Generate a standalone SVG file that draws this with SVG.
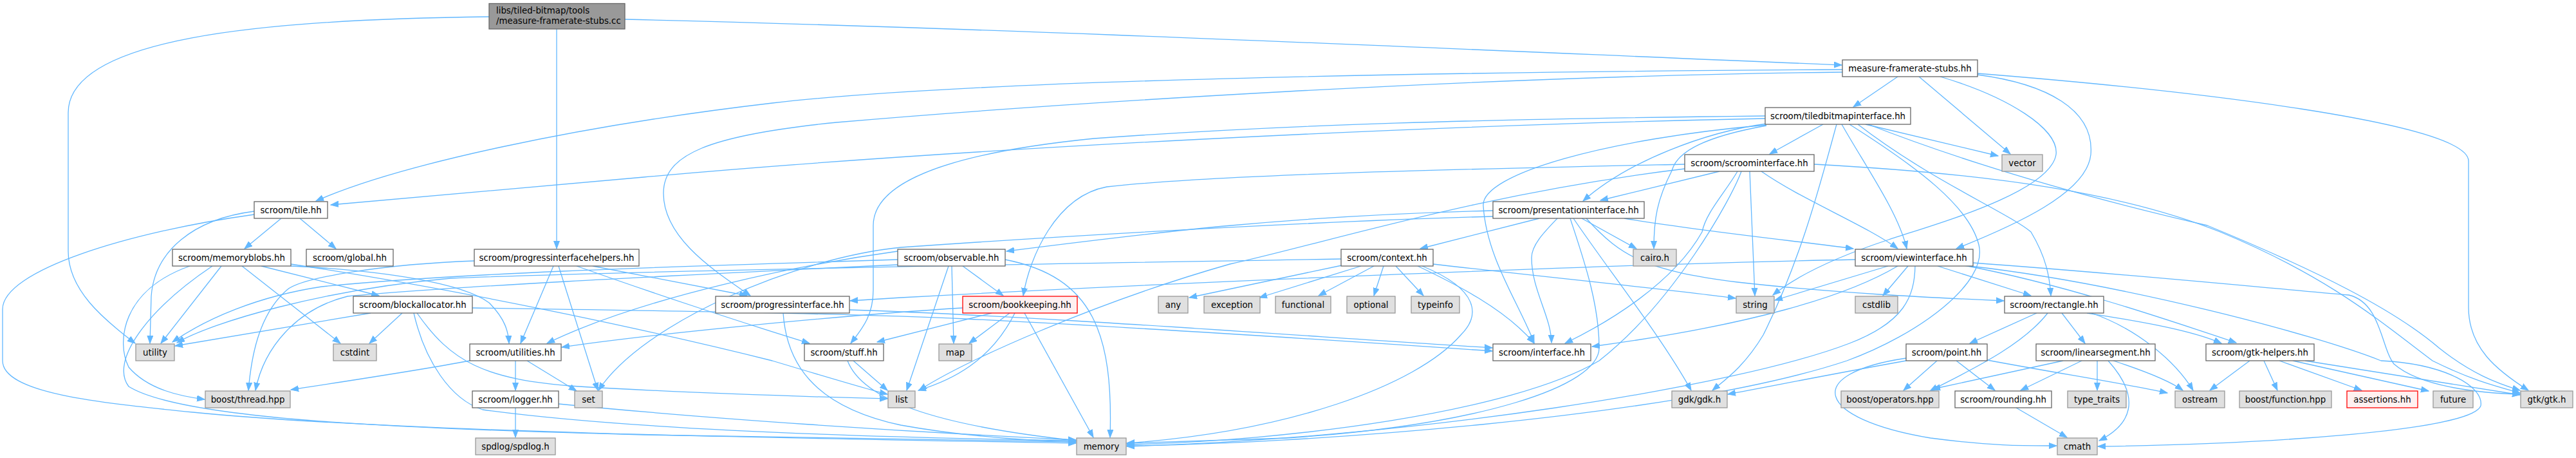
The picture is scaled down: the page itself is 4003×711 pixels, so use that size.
<svg xmlns="http://www.w3.org/2000/svg" width="4003" height="711" viewBox="0 0 4003 711">
<style>
.n rect{fill:#fff;stroke:#666;stroke-width:1.3}
.g rect{fill:#e0e0e0;stroke:#999;stroke-width:1.3}
.r rect{fill:#fff0f0;stroke:#f00;stroke-width:1.3}
.root rect{fill:#999;stroke:#666;stroke-width:1.3}
text{font-family:"DejaVu Sans",sans-serif;font-size:13.33px;fill:#000;text-anchor:middle}
.root text{text-anchor:start}
#edges path{fill:none;stroke:#63b8ff;stroke-width:1.3;marker-end:url(#a)}
</style>
<defs>
<marker id="a" markerUnits="userSpaceOnUse" markerWidth="14" markerHeight="11" refX="12" refY="5" orient="auto">
<path d="M0,0.5 L12,5 L0,9.5 z" fill="#63b8ff" stroke="#63b8ff" stroke-width="1"/>
</marker>
</defs>
<rect width="4003" height="711" fill="#fff"/>
<g id="edges">
<path d="M971,30 C1600,45 2300,78 2862,101"/>
<path d="M865,45 L865,386"/>
<path d="M760,26 C400,30 106,60 106,175 L106,390 C106,450 160,495 210,533"/>
<path d="M2949,119 L2880,166"/>
<path d="M2982,119 L3124,239"/>
<path d="M2863,108 C2200,112 1500,125 1200,160 C900,195 620,255 491,312"/>
<path d="M2863,112 C2300,118 1650,160 1300,190 C1100,210 1031,240 1031,300 C1031,370 1110,420 1166,459"/>
<path d="M3073,116 C3180,130 3255,170 3249,240 C3243,300 3130,350 3040,386"/>
<path d="M3015,119 C3120,150 3200,200 3195,240 C3185,300 3000,350 2935,372 C2850,400 2790,430 2755,458"/>
<path d="M3073,114 C3400,140 3836,190 3836,250 L3836,477 C3836,540 3880,575 3929,606"/>
<path d="M2833,193 L2750,239"/>
<path d="M2745,192 C2650,205 2530,250 2460,312"/>
<path d="M2743,184 C2200,195 1500,230 1000,275 C800,292 650,305 514,318"/>
<path d="M2743,180 C2300,185 2000,193 1700,215 C1450,240 1357,290 1357,350 L1357,450 C1357,490 1340,510 1322,533"/>
<path d="M2862,193 C2900,260 2950,330 2963,386"/>
<path d="M2745,194 C2500,215 2300,270 2305,320 C2310,400 2360,470 2384,532"/>
<path d="M2745,195 C2650,212 2606,235 2598,265 C2575,310 2570,340 2570,386"/>
<path d="M2887,193 C3000,280 3120,330 3156,360 C3180,400 3185,430 3187,459"/>
<path d="M2899,193 L3105,242"/>
<path d="M2854,193 C2830,280 2800,400 2740,520 C2710,570 2680,590 2661,606"/>
<path d="M2874,193 C2980,260 3060,320 3075,380 C3090,440 2980,520 2870,560 C2600,650 2000,690 1751,692"/>
<path d="M2903,193 C3100,270 3300,320 3430,350 C3600,420 3720,480 3790,540 C3840,580 3880,595 3916,606"/>
<path d="M2672,266 L2487,311"/>
<path d="M2719,266 L2727,459"/>
<path d="M2737,266 C2800,310 2900,350 2949,386"/>
<path d="M2618,255 C2300,262 1900,270 1720,290 C1640,305 1600,400 1590,459"/>
<path d="M2618,262 C2300,300 2050,380 1911,410 C1700,470 1500,560 1428,606"/>
<path d="M2700,266 C2680,300 2651,330 2645,360 C2600,440 2500,500 2432,533"/>
<path d="M2706,266 C2690,310 2600,470 2485,560 C2350,640 2000,685 1751,690"/>
<path d="M2819,255 C3100,270 3300,300 3450,360 C3620,430 3700,500 3780,560 C3840,590 3880,600 3916,610"/>
<path d="M2320,327 C2000,335 1800,360 1564,390"/>
<path d="M2320,336 C2000,345 1600,370 1400,384 C1238,400 1000,500 930,606"/>
<path d="M2392,339 L2207,386"/>
<path d="M2420,339 C2400,360 2380,380 2380,400 C2380,450 2410,490 2411,532"/>
<path d="M2440,339 C2460,400 2485,470 2485,540 C2485,600 2300,660 2000,680 L1751,688"/>
<path d="M2445,339 C2500,420 2580,520 2628,606"/>
<path d="M2458,339 L2543,386"/>
<path d="M2465,339 C2520,400 2560,420 2700,438 C2850,455 3000,462 3114,467"/>
<path d="M2524,339 C2650,360 2800,375 2880,386"/>
<path d="M1496,413 L1559,459"/>
<path d="M1479,413 L1482,533"/>
<path d="M1474,413 L1409,606"/>
<path d="M1562,403 C1700,430 1730,520 1725,679"/>
<path d="M1395,390 C1250,410 1000,460 850,533"/>
<path d="M1395,403 C1000,415 700,425 500,445 C400,460 320,495 268,531"/>
<path d="M1395,411 C1000,430 700,445 540,460 C460,480 410,540 397,606"/>
<path d="M2085,412 L1848,462"/>
<path d="M2115,413 L1957,462"/>
<path d="M2135,413 L2049,459"/>
<path d="M2150,413 L2135,459"/>
<path d="M2169,413 L2212,459"/>
<path d="M2203,413 C2260,440 2340,480 2384,533"/>
<path d="M2210,413 C2300,450 2300,490 2270,520 C2200,600 2000,670 1751,688"/>
<path d="M2227,410 C2400,430 2600,450 2697,463"/>
<path d="M2084,402 C1600,410 1000,420 700,432 C500,450 330,500 275,532"/>
<path d="M2883,403 C2500,410 1800,440 1400,462 L1321,467"/>
<path d="M2934,413 L2758,466"/>
<path d="M2949,413 C2870,460 2720,505 2474,538"/>
<path d="M2965,413 L2926,459"/>
<path d="M2976,413 C2975,460 2960,500 2874,533 C2700,600 2200,680 1751,693"/>
<path d="M3011,413 L3156,459"/>
<path d="M3052,412 C3200,440 3350,490 3475,532"/>
<path d="M3066,408 C3300,425 3500,445 3650,458 C3700,470 3700,540 3720,565 C3760,600 3850,610 3916,612"/>
<path d="M3061,413 C3300,440 3600,520 3700,560 C3800,565 3860,600 3855,630 C3840,670 3500,690 3260,693"/>
<path d="M3165,486 L3061,533"/>
<path d="M3182,486 C3140,540 3050,580 2999,607"/>
<path d="M3204,486 L3240,533"/>
<path d="M3243,486 C3300,495 3400,510 3452,533"/>
<path d="M3250,486 C3320,510 3380,560 3408,606"/>
<path d="M3010,560 L2958,606"/>
<path d="M3040,560 L3100,606"/>
<path d="M2962,556 C2800,580 2820,650 3000,680 C3100,693 3150,692 3196,692"/>
<path d="M3088,559 C3200,580 3300,595 3368,610"/>
<path d="M2962,560 C2850,580 2750,600 2685,612"/>
<path d="M3206,560 L3003,604"/>
<path d="M3235,560 L3140,606"/>
<path d="M3259,560 L3259,606"/>
<path d="M3276,560 C3330,620 3310,660 3262,684"/>
<path d="M3284,560 C3330,575 3370,590 3392,606"/>
<path d="M3133,633 L3212,679"/>
<path d="M3496,560 L3434,606"/>
<path d="M3518,560 L3539,606"/>
<path d="M3542,560 L3670,606"/>
<path d="M3563,560 L3774,607"/>
<path d="M3582,560 L3916,613"/>
<path d="M437,339 L380,386"/>
<path d="M466,339 L522,386"/>
<path d="M395,328 C300,340 240,390 235,460 L233,533"/>
<path d="M395,333 C200,360 4,420 4,480 L4,560 C4,610 150,625 300,640 C600,670 1200,680 1672,688"/>
<path d="M295,413 C190,450 180,530 200,570 C230,605 280,615 318,620"/>
<path d="M330,413 C230,480 170,560 200,600 C280,650 600,665 1000,675 C1300,682 1500,685 1672,686"/>
<path d="M344,413 L250,533"/>
<path d="M376,413 L529,533"/>
<path d="M406,413 L589,459"/>
<path d="M452,410 C700,447 1000,510 1200,560 C1300,590 1350,605 1379,612"/>
<path d="M452,413 C600,420 720,440 760,470 C785,495 790,515 791,533"/>
<path d="M576,486 L272,537"/>
<path d="M625,486 L574,533"/>
<path d="M643,486 C660,560 700,620 750,636 C1000,670 1400,680 1672,684"/>
<path d="M648,486 C700,560 750,590 900,600 C1100,612 1300,617 1379,619"/>
<path d="M734,478 C1000,482 1300,486 1500,495 C1800,510 2100,530 2319,545"/>
<path d="M737,405 C600,410 470,430 446,450 C400,490 390,560 386,606"/>
<path d="M860,413 L809,533"/>
<path d="M868,413 L929,606"/>
<path d="M921,413 L1161,459"/>
<path d="M896,413 C1000,450 1150,500 1258,533"/>
<path d="M1217,486 C1222,560 1260,630 1400,660 C1500,678 1600,684 1672,686"/>
<path d="M1320,481 C1600,490 2000,520 2319,540"/>
<path d="M1541,486 L1363,531"/>
<path d="M1569,486 L1506,533"/>
<path d="M1577,486 C1540,560 1480,590 1427,606"/>
<path d="M1592,486 L1699,679"/>
<path d="M1496,478 C1300,490 1000,520 873,539"/>
<path d="M1326,560 L1379,606"/>
<path d="M1317,560 C1340,620 1450,660 1672,684"/>
<path d="M801,560 L801,606"/>
<path d="M819,560 L896,607"/>
<path d="M730,560 C650,575 550,590 452,605"/>
<path d="M801,633 L801,679"/>
<path d="M868,627 C1100,650 1400,670 1672,683"/>
</g>
<g id="root" class="root"><rect x="760" y="5.5" width="211" height="39.5"/><text x="771" y="21">libs/tiled-bitmap/tools</text><text x="771" y="37">/measure-framerate-stubs.cc</text></g>
<g id="stubs" class="n"><rect x="2863" y="93" width="210" height="26"/><text x="2968" y="110.5">measure-framerate-stubs.hh</text></g>
<g id="tiledbitmapinterface" class="n"><rect x="2743" y="167" width="226" height="26"/><text x="2856" y="184.5">scroom/tiledbitmapinterface.hh</text></g>
<g id="scroominterface" class="n"><rect x="2618" y="240" width="201" height="26"/><text x="2718.5" y="257.5">scroom/scroominterface.hh</text></g>
<g id="vector" class="g"><rect x="3111" y="240" width="63" height="26"/><text x="3142.5" y="257.5">vector</text></g>
<g id="tile" class="n"><rect x="395" y="313" width="114" height="26"/><text x="452" y="330.5">scroom/tile.hh</text></g>
<g id="presentationinterface" class="n"><rect x="2320" y="313" width="235" height="26"/><text x="2437.5" y="330.5">scroom/presentationinterface.hh</text></g>
<g id="memoryblobs" class="n"><rect x="268" y="387" width="184" height="26"/><text x="360" y="404.5">scroom/memoryblobs.hh</text></g>
<g id="global" class="n"><rect x="476" y="387" width="135" height="26"/><text x="543.5" y="404.5">scroom/global.hh</text></g>
<g id="progressinterfacehelpers" class="n"><rect x="737" y="387" width="256" height="26"/><text x="865" y="404.5">scroom/progressinterfacehelpers.hh</text></g>
<g id="observable" class="n"><rect x="1395" y="387" width="167" height="26"/><text x="1478.5" y="404.5">scroom/observable.hh</text></g>
<g id="context" class="n"><rect x="2084" y="387" width="143" height="26"/><text x="2155.5" y="404.5">scroom/context.hh</text></g>
<g id="cairo" class="g"><rect x="2538" y="387" width="67" height="26"/><text x="2571.5" y="404.5">cairo.h</text></g>
<g id="viewinterface" class="n"><rect x="2883" y="387" width="183" height="26"/><text x="2974.5" y="404.5">scroom/viewinterface.hh</text></g>
<g id="blockallocator" class="n"><rect x="549" y="460" width="185" height="26"/><text x="641.5" y="477.5">scroom/blockallocator.hh</text></g>
<g id="progressinterface" class="n"><rect x="1112" y="460" width="208" height="26"/><text x="1216" y="477.5">scroom/progressinterface.hh</text></g>
<g id="bookkeeping" class="r"><rect x="1496" y="460" width="178" height="26"/><text x="1585" y="477.5">scroom/bookkeeping.hh</text></g>
<g id="any" class="g"><rect x="1800" y="460" width="46" height="26"/><text x="1823" y="477.5">any</text></g>
<g id="exception" class="g"><rect x="1871" y="460" width="87" height="26"/><text x="1914.5" y="477.5">exception</text></g>
<g id="functional" class="g"><rect x="1982" y="460" width="86" height="26"/><text x="2025" y="477.5">functional</text></g>
<g id="optional" class="g"><rect x="2093" y="460" width="75" height="26"/><text x="2130.5" y="477.5">optional</text></g>
<g id="typeinfo" class="g"><rect x="2193" y="460" width="75" height="26"/><text x="2230.5" y="477.5">typeinfo</text></g>
<g id="string" class="g"><rect x="2698" y="460" width="59" height="26"/><text x="2727.5" y="477.5">string</text></g>
<g id="cstdlib" class="g"><rect x="2883" y="460" width="66" height="26"/><text x="2916" y="477.5">cstdlib</text></g>
<g id="rectangle" class="n"><rect x="3115" y="460" width="154" height="26"/><text x="3192" y="477.5">scroom/rectangle.hh</text></g>
<g id="utility" class="g"><rect x="211" y="534" width="60" height="26"/><text x="241" y="551.5">utility</text></g>
<g id="cstdint" class="g"><rect x="518" y="534" width="67" height="26"/><text x="551.5" y="551.5">cstdint</text></g>
<g id="utilities" class="n"><rect x="730" y="534" width="142" height="26"/><text x="801" y="551.5">scroom/utilities.hh</text></g>
<g id="stuff" class="n"><rect x="1250" y="534" width="123" height="26"/><text x="1311.5" y="551.5">scroom/stuff.hh</text></g>
<g id="map" class="g"><rect x="1459" y="534" width="51" height="26"/><text x="1484.5" y="551.5">map</text></g>
<g id="interface" class="n"><rect x="2320" y="534" width="152" height="26"/><text x="2396" y="551.5">scroom/interface.hh</text></g>
<g id="point" class="n"><rect x="2962" y="534" width="126" height="26"/><text x="3025" y="551.5">scroom/point.hh</text></g>
<g id="linearsegment" class="n"><rect x="3164" y="534" width="185" height="26"/><text x="3256.5" y="551.5">scroom/linearsegment.hh</text></g>
<g id="gtkhelpers" class="n"><rect x="3428" y="534" width="168" height="26"/><text x="3512" y="551.5">scroom/gtk-helpers.hh</text></g>
<g id="boostthread" class="g"><rect x="319" y="607" width="132" height="26"/><text x="385" y="624.5">boost/thread.hpp</text></g>
<g id="logger" class="n"><rect x="734" y="607" width="134" height="26"/><text x="801" y="624.5">scroom/logger.hh</text></g>
<g id="set" class="g"><rect x="893" y="607" width="43" height="26"/><text x="914.5" y="624.5">set</text></g>
<g id="list" class="g"><rect x="1380" y="607" width="42" height="26"/><text x="1401" y="624.5">list</text></g>
<g id="gdk" class="g"><rect x="2598" y="607" width="86" height="26"/><text x="2641" y="624.5">gdk/gdk.h</text></g>
<g id="boostoperators" class="g"><rect x="2861" y="607" width="152" height="26"/><text x="2937" y="624.5">boost/operators.hpp</text></g>
<g id="rounding" class="n"><rect x="3038" y="607" width="150" height="26"/><text x="3113" y="624.5">scroom/rounding.hh</text></g>
<g id="typetraits" class="g"><rect x="3213" y="607" width="91" height="26"/><text x="3258.5" y="624.5">type_traits</text></g>
<g id="ostream" class="g"><rect x="3380" y="607" width="77" height="26"/><text x="3418.5" y="624.5">ostream</text></g>
<g id="boostfunction" class="g"><rect x="3480" y="607" width="143" height="26"/><text x="3551.5" y="624.5">boost/function.hpp</text></g>
<g id="assertions" class="r"><rect x="3647" y="607" width="110" height="26"/><text x="3702" y="624.5">assertions.hh</text></g>
<g id="future" class="g"><rect x="3781" y="607" width="62" height="26"/><text x="3812" y="624.5">future</text></g>
<g id="gtk" class="g"><rect x="3917" y="607" width="81" height="26"/><text x="3957.5" y="624.5">gtk/gtk.h</text></g>
<g id="spdlog" class="g"><rect x="739" y="680" width="124" height="26"/><text x="801" y="697.5">spdlog/spdlog.h</text></g>
<g id="memory" class="g"><rect x="1673" y="680" width="77" height="26"/><text x="1711.5" y="697.5">memory</text></g>
<g id="cmath" class="g"><rect x="3197" y="680" width="62" height="26"/><text x="3228" y="697.5">cmath</text></g>
</svg>
